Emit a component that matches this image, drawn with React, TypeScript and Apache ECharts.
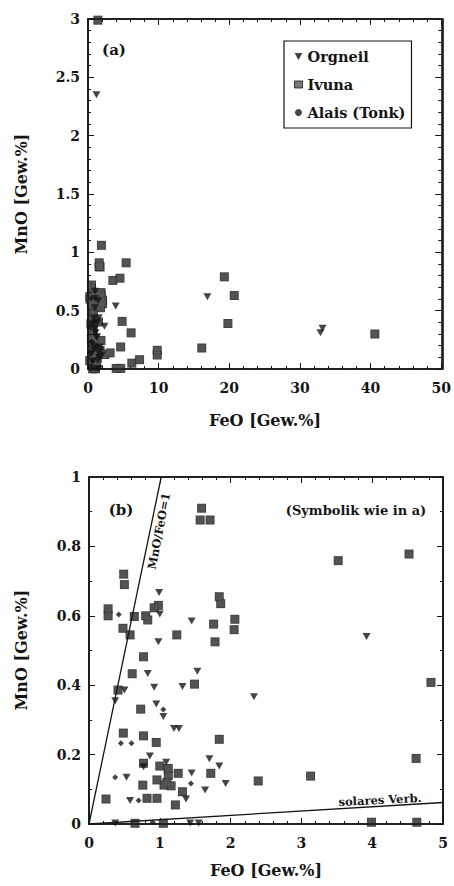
import React, { useEffect, useRef, useState } from "react";
import * as echarts from "echarts";

// ---- data (FeO, MnO in Gew.%) ----
const orgneil: number[][] = [
  [0.99, 0.667], [1.0, 0.605], [0.98, 0.525], [1.45, 0.585], [3.92, 0.54],
  [0.83, 0.434], [0.92, 0.394], [1.32, 0.396], [1.53, 0.44], [2.33, 0.367],
  [0.37, 0.355], [0.5, 0.386], [0.95, 0.346], [1.05, 0.31], [1.2, 0.275], [1.27, 0.275],
  [0.86, 0.196], [1.09, 0.178], [0.77, 0.165], [1.45, 0.147], [1.84, 0.167],
  [1.7, 0.188], [1.93, 0.117], [1.64, 0.098], [0.53, 0.135], [1.37, 0.072],
  [0.58, 0.068], [0.37, 0.003], [1.43, 0.003], [1.55, 0.003],
  [1.2, 2.35], [16.9, 0.62], [32.9, 0.31], [33.2, 0.35],
];
const ivuna: number[][] = [
  [1.59, 0.91], [1.57, 0.876], [1.71, 0.876], [3.52, 0.759], [4.52, 0.778],
  [0.49, 0.72], [0.5, 0.69], [0.92, 0.623], [0.98, 0.63], [1.84, 0.655], [1.86, 0.635],
  [0.27, 0.62], [0.27, 0.6], [0.64, 0.598], [0.8, 0.6], [0.83, 0.588], [0.48, 0.564],
  [0.58, 0.545], [1.24, 0.545], [1.76, 0.576], [1.78, 0.525], [2.06, 0.59], [2.05, 0.56],
  [0.77, 0.482], [0.61, 0.433], [1.49, 0.403], [4.83, 0.408], [0.41, 0.386],
  [0.73, 0.331], [0.485, 0.262], [0.77, 0.254], [0.95, 0.235], [1.84, 0.244],
  [0.77, 0.175], [1.0, 0.167], [1.12, 0.16], [1.12, 0.14], [1.1, 0.12], [1.16, 0.11],
  [1.06, 0.112], [1.26, 0.146], [1.72, 0.146], [2.39, 0.124], [3.13, 0.138],
  [4.62, 0.189], [0.76, 0.112], [0.96, 0.127], [1.32, 0.093], [0.82, 0.074],
  [0.96, 0.074], [1.22, 0.055], [0.24, 0.072], [0.65, 0.002], [1.05, 0.002],
  [3.99, 0.005], [4.63, 0.005],
  [1.4, 2.99], [1.9, 1.06], [5.4, 0.91], [6.1, 0.31], [6.2, 0.05], [7.3, 0.08],
  [9.8, 0.16], [9.8, 0.12], [16.1, 0.18], [19.3, 0.79], [20.7, 0.63], [19.8, 0.39],
  [40.6, 0.3],
];
const alais: number[][] = [
  [0.42, 0.604], [0.45, 0.233], [0.6, 0.233], [1.05, 0.33], [0.37, 0.135],
  [1.44, 0.117], [0.7, 0.068], [0.9, 0.005],
];
const ratioLine: number[][] = [[0, 0], [1.02, 1]];
const solarLine: number[][] = [[0, 0], [5, 0.062]];

const seriesNames = ["Orgneil", "Ivuna", "Alais (Tonk)"];
const xAxisName = "FeO [Gew.%]";
const yAxisName = "MnO [Gew.%]";
// [min, max, interval, minor splits]
const xRangeA = [0, 50, 10, 5];
const yRangeA = [0, 3, 0.5, 5];
const xRangeB = [0, 5, 1, 5];
const yRangeB = [0, 1, 0.2, 2];

const FONT = "DejaVu Serif";
const TRI = "path://M0,0 L10,0 L5,9 Z";
const INK = "#151515";
const GREY = "#585858";

function axis(r: number[], pos: string, main: boolean): any {
  const o: any = {
    type: "value",
    min: r[0],
    max: r[1],
    interval: r[2],
    position: pos,
    splitLine: { show: false },
    axisLine: { show: true, onZero: false, lineStyle: { color: INK, width: 1.6 } },
    axisTick: { show: true, inside: true, length: 6 },
    minorTick: { show: true, splitNumber: r[3], length: 3 },
  };
  o.axisLabel = main
    ? { color: INK, fontFamily: FONT, fontWeight: "bold", fontSize: 14, margin: pos === "bottom" ? 12 : 8 }
    : { show: false };
  return o;
}

function scat(): any[] {
  return [
    { type: "scatter", xAxisIndex: 0, yAxisIndex: 0, symbol: "rect", symbolSize: 9, itemStyle: { color: INK }, data: ivuna, silent: true },
    { name: seriesNames[1], type: "scatter", xAxisIndex: 0, yAxisIndex: 0, symbol: "rect", symbolSize: 7, itemStyle: { color: GREY }, data: ivuna },
    { name: seriesNames[0], type: "scatter", xAxisIndex: 0, yAxisIndex: 0, symbol: TRI, symbolSize: [8, 7], itemStyle: { color: INK }, data: orgneil },
    { name: seriesNames[2], type: "scatter", xAxisIndex: 0, yAxisIndex: 0, symbol: "diamond", symbolSize: 6, itemStyle: { color: INK }, data: alais },
    { type: "scatter", xAxisIndex: 1, yAxisIndex: 1, data: [], silent: true },
  ];
}

function centred(text: string, x: number, y: number, rotation = 0, size = 16): any {
  return {
    type: "text",
    x,
    y,
    rotation,
    style: { text, font: `bold ${size}px ${FONT}`, fill: INK, align: "center", verticalAlign: "middle" },
  };
}

function frameRect(x: number, y: number, w: number, h: number): any {
  return { type: "rect", z: 50, silent: true, shape: { x, y, width: w, height: h }, style: { fill: "none", stroke: INK, lineWidth: 1.6 } };
}

function optionA(): any {
  return {
    animation: false,
    grid: { left: 88, top: 19, width: 355, height: 350 },
    xAxis: [axis(xRangeA, "bottom", true), axis(xRangeA, "top", false)],
    yAxis: [axis(yRangeA, "left", true), axis(yRangeA, "right", false)],
    legend: {
      data: [
        { name: seriesNames[0], icon: TRI, itemStyle: { color: INK } },
        { name: seriesNames[1], icon: "rect", itemStyle: { color: GREY, borderColor: INK, borderWidth: 1 } },
        { name: seriesNames[2], icon: "circle", itemStyle: { color: INK } },
      ],
      orient: "vertical",
      left: 284,
      top: 41,
      padding: [8, 6, 8, 10],
      itemWidth: 8,
      itemHeight: 7,
      itemGap: 13,
      borderColor: INK,
      borderWidth: 1.2,
      selectedMode: false,
      textStyle: { color: INK, fontFamily: FONT, fontWeight: "bold", fontSize: 14.5 },
    },
    graphic: [
      frameRect(88, 19, 355, 350),
      centred(xAxisName, 265, 420),
      centred(yAxisName, 21, 194, Math.PI / 2),
      centred("(a)", 114, 50, 0, 15),
    ],
    series: scat(),
  };
}

function optionB(): any {
  return {
    animation: false,
    grid: { left: 89, top: 34, width: 354, height: 347 },
    xAxis: [axis(xRangeB, "bottom", true), axis(xRangeB, "top", false)],
    yAxis: [axis(yRangeB, "left", true), axis(yRangeB, "right", false)],
    graphic: [
      frameRect(89, 34, 354, 347),
      centred(xAxisName, 266, 427),
      centred(yAxisName, 21, 207, Math.PI / 2),
      centred("(b)", 121, 67, 0, 15),
      centred("(Symbolik wie in a)", 356, 67, 0, 13),
      centred("solares Verb.", 380, 357, 0.05, 11.5),
      centred("MnO/FeO=1", 159, 88, 1.38, 11.5),
    ],
    series: [
      ...scat(),
      { type: "line", xAxisIndex: 0, yAxisIndex: 0, data: ratioLine, symbol: "none", lineStyle: { color: INK, width: 1.3 }, silent: true },
      { type: "line", xAxisIndex: 0, yAxisIndex: 0, data: solarLine, symbol: "none", lineStyle: { color: INK, width: 1.3 }, silent: true },
    ],
  };
}

function Panel({ top, make }: { top: number; make: () => any }) {
  const ref = useRef<HTMLDivElement>(null);
  const [err, setErr] = useState("");
  useEffect(() => {
    if (!ref.current) return;
    const chart = echarts.init(ref.current, undefined, { renderer: "svg" });
    try {
      chart.setOption(make());
    } catch (e: any) {
      setErr(String(e && e.message));
    }
    return () => chart.dispose();
  }, []);
  return (
    <>
      <div ref={ref} style={{ position: "absolute", left: 0, top, width: 454, height: 443 }} />
      {err ? <div style={{ position: "absolute", left: 0, top, fontSize: 10, color: "red" }}>{err}</div> : null}
    </>
  );
}

export default function App() {
  return (
    <div style={{ position: "fixed", left: 0, top: 0, width: 454, height: 886, background: "#fff" }}>
      <Panel top={0} make={optionA} />
      <Panel top={443} make={optionB} />
    </div>
  );
}
